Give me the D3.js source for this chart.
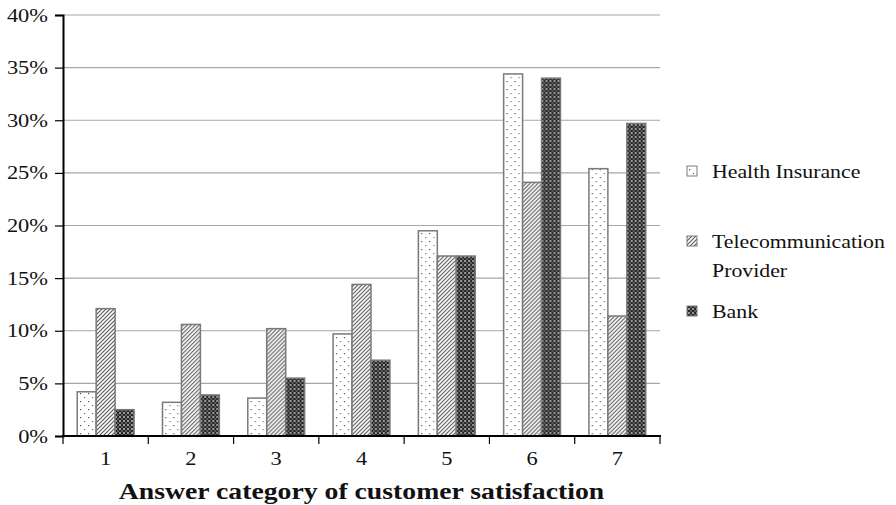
<!DOCTYPE html>
<html>
<head>
<meta charset="utf-8">
<script src="https://cdn.jsdelivr.net/npm/d3@7"></script>
<style>
  html, body { margin: 0; padding: 0; background: #fff; }
  svg { display: block; font-family: "Liberation Serif", "Times New Roman", serif; }
</style>
</head>
<body>
<svg id="chart" width="896" height="505"></svg>
<script>
// Answer categories (1 = very dissatisfied ... 7 = very satisfied)
const categories = ["1", "2", "3", "4", "5", "6", "7"];
const seriesNames = ["Health Insurance", "Telecommunication Provider", "Bank"];
// Share of respondents per category, in percent
const healthInsurance = [4.2, 3.2, 3.6, 9.7, 19.5, 34.4, 25.4];
const telecomProvider = [12.1, 10.6, 10.2, 14.4, 17.1, 24.1, 11.4];
const bank = [2.5, 3.9, 5.5, 7.2, 17.1, 34.0, 29.7];
const yTicks = [0, 5, 10, 15, 20, 25, 30, 35, 40];
const xTitle = "Answer category of customer satisfaction";

const seriesValues = [healthInsurance, telecomProvider, bank];
const patternIds = ["pat-dots", "pat-hatch", "pat-check"];

const svg = d3.select("#chart");
const plotLeft = 63, plotRight = 660, plotTop = 15, plotBottom = 436;
const stretch = 1.18; // text is set slightly wide

const x = d3.scaleBand().domain(categories).range([plotLeft, plotRight]).padding(0);
const groupPad = x.bandwidth() * 1.5 / 9; // 150% gap between groups
const x1 = d3.scaleBand().domain(seriesNames)
  .range([groupPad, x.bandwidth() - groupPad]).padding(0);
const y = d3.scaleLinear().domain([0, 40]).range([plotBottom, plotTop]);

// wide-set text placed at (tx, ty)
function wideText(sel, tx, ty, str, size, anchor, weight) {
  return sel.append("text")
    .attr("transform", `translate(${tx},${ty}) scale(${stretch},1)`)
    .attr("text-anchor", anchor || "start")
    .attr("font-size", size)
    .attr("font-weight", weight || "normal")
    .attr("fill", "#111")
    .text(str);
}

// fill patterns
const defs = svg.append("defs");
const dots = defs.append("pattern").attr("id", "pat-dots")
  .attr("patternUnits", "userSpaceOnUse").attr("width", 8).attr("height", 8);
dots.append("rect").attr("width", 8).attr("height", 8).attr("fill", "#fff");
dots.append("rect").attr("x", 1).attr("y", 1).attr("width", 1.2).attr("height", 1.2).attr("fill", "#555");
dots.append("rect").attr("x", 5).attr("y", 5).attr("width", 1.2).attr("height", 1.2).attr("fill", "#777");

const hatch = defs.append("pattern").attr("id", "pat-hatch")
  .attr("patternUnits", "userSpaceOnUse").attr("width", 4).attr("height", 4);
hatch.append("rect").attr("width", 4).attr("height", 4).attr("fill", "#fff");
hatch.append("path").attr("d", "M-1,1 L1,-1 M0,4 L4,0 M3,5 L5,3")
  .attr("stroke", "#555").attr("stroke-width", 1.1);

const check = defs.append("pattern").attr("id", "pat-check")
  .attr("patternUnits", "userSpaceOnUse").attr("width", 4).attr("height", 4);
check.append("rect").attr("width", 4).attr("height", 4).attr("fill", "#262626");
check.append("rect").attr("x", 0).attr("y", 0).attr("width", 2).attr("height", 2).attr("fill", "#9a9a9a");
check.append("rect").attr("x", 2).attr("y", 2).attr("width", 2).attr("height", 2).attr("fill", "#5e5e5e");

// horizontal gridlines
svg.append("g").selectAll("line").data(yTicks.filter(d => d > 0)).join("line")
  .attr("x1", plotLeft).attr("x2", plotRight)
  .attr("y1", d => y(d)).attr("y2", d => y(d))
  .attr("stroke", "#a6a6a6").attr("stroke-width", 1.2);

// bars
const groups = svg.append("g").selectAll("g").data(categories).join("g")
  .attr("transform", d => `translate(${x(d)},0)`);
groups.selectAll("rect")
  .data((c, i) => seriesNames.map((s, k) => ({ s, k, v: seriesValues[k][i] })))
  .join("rect")
  .attr("x", d => x1(d.s))
  .attr("width", x1.bandwidth())
  .attr("y", d => y(d.v))
  .attr("height", d => y(0) - y(d.v))
  .attr("fill", d => `url(#${patternIds[d.k]})`)
  .attr("stroke", "#7a7a7a").attr("stroke-width", 1.5);

// y axis (labels drawn separately so they can be set wide)
const yAxis = d3.axisLeft(y).tickValues(yTicks).tickSize(8).tickFormat("");
const gy = svg.append("g").attr("transform", `translate(${plotLeft},0)`).call(yAxis);
gy.select(".domain").attr("stroke", "#000").attr("stroke-width", 2);
gy.selectAll(".tick line").attr("stroke", "#000").attr("stroke-width", 1.2);
const yLabels = svg.append("g");
yTicks.forEach(t => wideText(yLabels, plotLeft - 15, y(t) + 6.5, t + "%", 19, "end"));

// x axis: ticks sit on the category boundaries
const gx = svg.append("g").attr("transform", `translate(0,${plotBottom})`);
gx.append("line").attr("x1", plotLeft - 1).attr("x2", plotRight + 1)
  .attr("stroke", "#000").attr("stroke-width", 2);
const bounds = categories.map(c => x(c)).concat([x(categories[categories.length - 1]) + x.bandwidth()]);
gx.selectAll("line.tk").data(bounds).join("line").attr("class", "tk")
  .attr("x1", d => d).attr("x2", d => d).attr("y1", 0).attr("y2", 8)
  .attr("stroke", "#000").attr("stroke-width", 1.2);
categories.forEach(c => wideText(gx, x(c) + x.bandwidth() / 2, 29, c, 19, "middle"));

// x axis title
wideText(svg, (plotLeft + plotRight) / 2, 499, xTitle, 23.5, "middle", "bold");

// legend
const legendRows = [
  { k: 0, lines: ["Health Insurance"], y: 171 },
  { k: 1, lines: ["Telecommunication", "Provider"], y: 241 },
  { k: 2, lines: ["Bank"], y: 311 }
];
const lg = svg.append("g");
legendRows.forEach(r => {
  lg.append("rect").attr("x", 687).attr("y", r.y - 5).attr("width", 10).attr("height", 10)
    .attr("fill", `url(#${patternIds[r.k]})`).attr("stroke", "#7a7a7a").attr("stroke-width", 1);
  r.lines.forEach((t, j) => wideText(lg, 712, r.y + 6.5 + j * 29, t, 18.5, "start"));
});
</script>
</body>
</html>
